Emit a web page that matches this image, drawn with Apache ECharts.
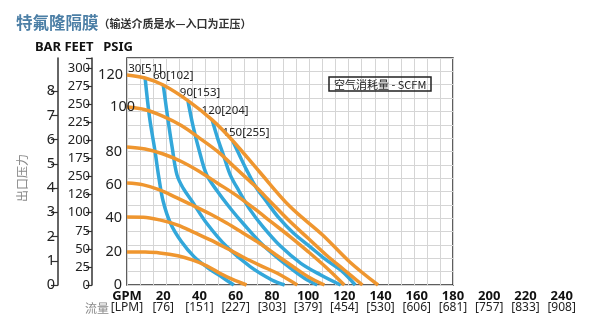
<!DOCTYPE html>
<html><head><meta charset="utf-8">
<script src="https://cdn.jsdelivr.net/npm/echarts@6/dist/echarts.min.js"></script>
<style>html,body{margin:0;padding:0;background:#fff}#c{width:600px;height:332px}</style>
</head><body><div id="c"></div>
<script>
// ---------------- data ----------------
const PSI_MAX = 136;            // top of plotted pressure range (psi)
const GPM_MAX = 180;            // right edge of plotted flow range (gpm)
const GPM_TICKS = [0,20,40,60,80,100,120,140,160,180,200,220,240];
const LPM_LABELS = ['[LPM]','[76]','[151]','[227]','[303]','[379]','[454]','[530]','[606]','[681]','[757]','[833]','[908]'];
const FEET_LABELS = ['0','25','50','75','100','126','250','175','200','225','250','275','300'];
const BAR_TICKS = [0,1,2,3,4,5,6,7,8];

// orange curves: discharge pressure (psi) vs flow (gpm) at each air inlet pressure
const ORANGE_20  = [[0,19.8],[10,19.7],[18,19.2],[28,17.5],[36,15],[44,11.5],[51,7.2],[58,3.5],[66,0]];
const ORANGE_40  = [[0,40.7],[9,40.6],[18,39],[28,35.9],[37,31.5],[46,27],[55,22],[64,16.8],[74,11.5],[83,7],[94,0]];
const ORANGE_60  = [[0,61.1],[9,60],[18,57],[27,52.5],[36,47.9],[46,42.5],[55,37.1],[64,31.2],[73,25.2],[82,18.3],[92,10.8],[100,5],[109,0]];
const ORANGE_80  = [[0,82.7],[10,81.5],[20,78.5],[30,74],[40,68],[50,61],[60,54],[70,46],[80,37.5],[90,29],[100,20],[110,10.5],[120,0]];
const ORANGE_100 = [[0,106.6],[10,105],[20,101],[30,95.5],[40,88],[50,80],[60,70],[70,60],[80,49],[90,38],[100,28],[110,18],[120,9],[130,0]];
const ORANGE_120 = [[0,125.8],[10,124],[20,119.8],[34,110.2],[47,98.9],[58.5,86.3],[73,68],[90,47],[108,30],[123,13.8],[138.6,0]];
const ORANGE_NAMES = ['20','40','60','80','100','120'];

// blue curves: air consumption (SCFM [Nm3/h])
const BLUE_30  = [[10,124],[12.5,100],[15.5,80],[17.5,65],[20,50],[24,37],[30,26],[37,17],[45,10],[52,5],[59,0]];
const BLUE_60  = [[20,120],[22.5,100],[25,82],[27.6,66],[31,58],[36,50],[44,37],[55,23],[68,11],[80,3],[87,0]];
const BLUE_90  = [[33.7,110],[36.5,95],[40,80],[44,66],[50,56],[57,46],[64,37],[75,24],[88,12],[98,4],[105,0]];
const BLUE_120 = [[47,99],[50,88],[53.5,77],[57,66],[62,56],[68,45],[75,35],[85,23],[96,13],[107,6],[118,0]];
const BLUE_150 = [[58.5,86],[62,78],[66,69],[71,59],[77,50],[84,40],[92,31],[101,23],[110,15],[119,8],[126,0]];
const BLUE_LABELS = ['30[51]','60[102]','90[153]','120[204]','150[255]'];

const PSI_PER_BAR = 14.5038;
const FEET_PER_PSI = 2.31;

// ---------------- chart ----------------
const ORANGE = '#ef962f';
const BLUE = '#33a7da';
const FONT = '"Noto Sans", "Liberation Sans", sans-serif';
const CJK = '"Noto Sans CJK SC", sans-serif';

function orangeSeries(data, name, label, labelOffset) {
  const d = data.map((p, i) => {
    if (i === 0 && label) {
      return { value: p, label: { show: true, position: 'left', distance: 4, offset: labelOffset,
        formatter: label, fontSize: 14.5, color: '#222', fontFamily: FONT } };
    }
    return p;
  });
  return { type: 'line', name: 'air ' + name, xAxisIndex: 0, yAxisIndex: 0, data: d, clip: false,
    smooth: 0.35, showSymbol: true, symbol: 'circle', symbolSize: 0, z: 3,
    itemStyle: { color: ORANGE },
    lineStyle: { color: ORANGE, width: 3.5 }, emphasis: { disabled: true } };
}
function blueSeries(data, label, off) {
  const d = data.map((p, i) => i === 0 ? { value: p, label: { show: true, position: 'top', distance: 3, offset: off,
      formatter: label, fontSize: 11.5, color: '#222', fontFamily: FONT } } : p);
  return { type: 'line', name: label, xAxisIndex: 0, yAxisIndex: 0, data: d, clip: false,
    smooth: 0.35, showSymbol: true, symbol: 'circle', symbolSize: 0, z: 2,
    itemStyle: { color: BLUE },
    lineStyle: { color: BLUE, width: 3.5 }, emphasis: { disabled: true } };
}

const chart = echarts.init(document.getElementById('c'), null, { renderer: 'canvas' });
chart.setOption({
  animation: false,
  backgroundColor: '#fff',
  title: [
    { left: 12, top: 10, padding: 4,
      text: '{a|特氟隆隔膜}{b|（输送介质是水—入口为正压）}',
      textStyle: { rich: {
        a: { fontSize: 16.5, color: '#4c7fa6', fontFamily: CJK, fontWeight: 'bold' },
        b: { fontSize: 11, color: '#333', fontFamily: CJK, fontWeight: 'bold', padding: [3, 0, 0, 0] } } } },
    { left: 329, top: 77, padding: [2, 5, 1, 5], borderColor: '#222', borderWidth: 1.5,
      text: '空气消耗量 - SCFM', textStyle: { fontSize: 11, color: '#222', fontWeight: 'normal', fontFamily: CJK } }
  ],
  grid: [
    { left: 127, top: 58, width: 326, height: 227, show: true, borderColor: '#2a2a2a', borderWidth: 1.5, backgroundColor: 'transparent' },
    { left: 127, top: 284, width: 240 * 326 / GPM_MAX, height: 1 }
  ],
  xAxis: [
    { gridIndex: 0, type: 'value', min: 0, max: GPM_MAX, interval: GPM_MAX / 25,
      axisLine: { show: false }, axisTick: { show: false }, axisLabel: { show: false },
      splitLine: { show: true, lineStyle: { color: '#d5d5d5', width: 1 } } },
    { gridIndex: 1, type: 'value', min: 0, max: 240, interval: 20,
      axisLine: { show: false }, axisTick: { show: false }, splitLine: { show: false },
      axisLabel: { show: true, margin: 6, showMinLabel: true, showMaxLabel: true,
        formatter: v => { const i = Math.round(v / 20); return '{g|' + (i === 0 ? 'GPM' : GPM_TICKS[i]) + '}\n{l|' + LPM_LABELS[i] + '}'; },
        rich: { g: { fontSize: 13, fontWeight: 'bold', color: '#111', fontFamily: FONT, lineHeight: 11 },
                l: { fontSize: 12, color: '#222', fontFamily: FONT, lineHeight: 12 } } } }
  ],
  yAxis: [
    { gridIndex: 0, type: 'value', min: 0, max: PSI_MAX, interval: 8,
      axisLine: { show: false }, axisTick: { show: false }, axisLabel: { show: false },
      splitLine: { show: true, lineStyle: { color: '#d5d5d5', width: 1 } } },
    { gridIndex: 0, type: 'value', position: 'left', min: 0, max: PSI_MAX, interval: 20,
      axisLine: { show: false }, axisTick: { show: false }, splitLine: { show: false },
      axisLabel: { margin: 5, fontSize: 14.5, color: '#222', fontFamily: FONT, formatter: v => v <= 80 ? String(v) : '' },
      name: 'PSIG', nameLocation: 'end', nameGap: 4,
      nameTextStyle: { fontSize: 13, fontWeight: 'bold', color: '#111', fontFamily: FONT, align: 'center', padding: [0, 18, 0, 0] } },
    { gridIndex: 0, type: 'value', position: 'left', offset: 35, min: 0, max: PSI_MAX * FEET_PER_PSI, interval: 25,
      axisLine: { show: true, lineStyle: { color: '#333', width: 1.5 } },
      axisTick: { show: true, length: 6, lineStyle: { color: '#333', width: 1.2 } },
      splitLine: { show: false },
      axisLabel: { margin: 2, fontSize: 13, color: '#222', fontFamily: FONT, formatter: v => FEET_LABELS[Math.round(v / 25)] },
      name: 'FEET', nameLocation: 'end', nameGap: 4,
      nameTextStyle: { fontSize: 13, fontWeight: 'bold', color: '#111', fontFamily: FONT, align: 'center', padding: [0, 26, 0, 0] } },
    { gridIndex: 0, type: 'value', position: 'left', offset: 69, min: 0, max: PSI_MAX / PSI_PER_BAR,
      axisLine: { show: true, lineStyle: { color: '#333', width: 1.5 } },
      axisTick: { show: true, length: 7, customValues: BAR_TICKS, lineStyle: { color: '#333', width: 1.2 } },
      splitLine: { show: false },
      axisLabel: { margin: 3, fontSize: 14.5, color: '#222', fontFamily: FONT, customValues: BAR_TICKS, formatter: v => String(v) },
      name: 'BAR', nameLocation: 'end', nameGap: 4,
      nameTextStyle: { fontSize: 13, fontWeight: 'bold', color: '#111', fontFamily: FONT, align: 'center', padding: [0, 20, 0, 0] } },
    { gridIndex: 1, type: 'value', min: 0, max: 1, show: false }
  ],
  graphic: [
    { type: 'text', x: 22, y: 178, rotation: Math.PI / 2,
      style: { text: '出口压力', fill: '#8a8a8a', font: '12px ' + CJK, align: 'center', verticalAlign: 'middle' } },
    { type: 'text', x: 109, y: 308,
      style: { text: '流量', fill: '#8a8a8a', font: '12px ' + CJK, align: 'right', verticalAlign: 'middle' } }
  ],
  series: [
    blueSeries(BLUE_30, BLUE_LABELS[0], [0, 0]),
    blueSeries(BLUE_60, BLUE_LABELS[1], [10, 0]),
    blueSeries(BLUE_90, BLUE_LABELS[2], [12, 0]),
    blueSeries(BLUE_120, BLUE_LABELS[3], [13, 0]),
    blueSeries(BLUE_150, BLUE_LABELS[4], [13, 0]),
    orangeSeries(ORANGE_20, ORANGE_NAMES[0]),
    orangeSeries(ORANGE_40, ORANGE_NAMES[1]),
    orangeSeries(ORANGE_60, ORANGE_NAMES[2]),
    orangeSeries(ORANGE_80, ORANGE_NAMES[3]),
    orangeSeries(ORANGE_100, ORANGE_NAMES[4], '100', [12, 0]),
    orangeSeries(ORANGE_120, ORANGE_NAMES[5], '120', [0, 0])
  ]
});
</script></body></html>
